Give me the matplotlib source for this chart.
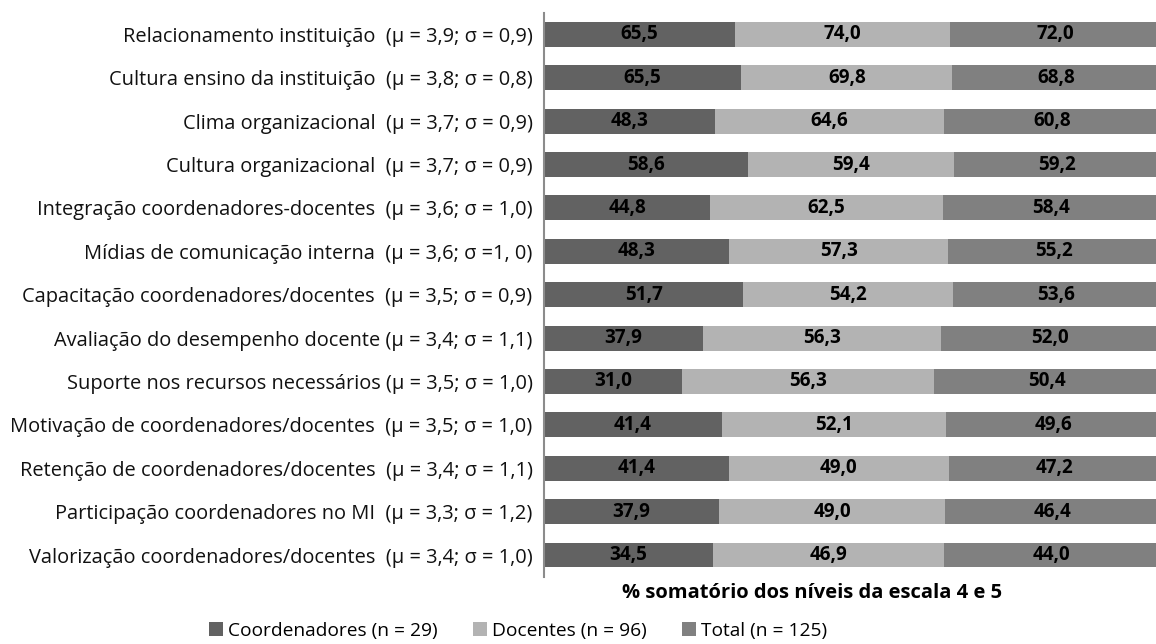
import matplotlib
matplotlib.use("Agg")
import matplotlib.pyplot as plt
from matplotlib.patches import Patch
import numpy as np

FONT = ['Open Sans', 'DejaVu Sans']
plt.rcParams['font.family'] = FONT

categories = [
    "Relacionamento instituição  (μ = 3,9; σ = 0,9)",
    "Cultura ensino da instituição  (μ = 3,8; σ = 0,8)",
    "Clima organizacional  (μ = 3,7; σ = 0,9)",
    "Cultura organizacional  (μ = 3,7; σ = 0,9)",
    "Integração coordenadores-docentes  (μ = 3,6; σ = 1,0)",
    "Mídias de comunicação interna  (μ = 3,6; σ =1, 0)",
    "Capacitação coordenadores/docentes  (μ = 3,5; σ = 0,9)",
    "Avaliação do desempenho docente (μ = 3,4; σ = 1,1)",
    "Suporte nos recursos necessários (μ = 3,5; σ = 1,0)",
    "Motivação de coordenadores/docentes  (μ = 3,5; σ = 1,0)",
    "Retenção de coordenadores/docentes  (μ = 3,4; σ = 1,1)",
    "Participação coordenadores no MI  (μ = 3,3; σ = 1,2)",
    "Valorização coordenadores/docentes  (μ = 3,4; σ = 1,0)",
]
coordenadores = [65.5, 65.5, 48.3, 58.6, 44.8, 48.3, 51.7, 37.9, 31.0, 41.4, 41.4, 37.9, 34.5]
docentes = [74.0, 69.8, 64.6, 59.4, 62.5, 57.3, 54.2, 56.3, 56.3, 52.1, 49.0, 49.0, 46.9]
total = [72.0, 68.8, 60.8, 59.2, 58.4, 55.2, 53.6, 52.0, 50.4, 49.6, 47.2, 46.4, 44.0]
series_names = ["Coordenadores (n = 29)", "Docentes (n = 96)", "Total (n = 125)"]
colors = ["#626262", "#b3b3b3", "#808080"]
xlabel = "% somatório dos níveis da escala 4 e 5"

W, H = 1156, 644
fig = plt.figure(figsize=(W / 100, H / 100), dpi=100)
renderer = fig.canvas.get_renderer()


def fit_size(s, target_px, **kw):
    t = fig.text(0, 0, s, fontsize=10, **kw)
    w = t.get_window_extent(renderer).width
    t.remove()
    return 10 * target_px / w


fs_lab = fit_size(categories[0], 411)
fs_val = fit_size("72,0", 38, fontweight='bold')
fs_title = fit_size(xlabel, 380, fontweight='bold')
fs_leg = fit_size(series_names[0], 209)

left, right = 543.7, 1160.0
top, bottom = 12.7, 576.7
ax = fig.add_axes([left / W, 1 - bottom / H, (right - left) / W, (bottom - top) / H])

data = np.array([coordenadores, docentes, total])
sums = data.sum(axis=0)
shares = data / sums
y = np.arange(len(categories))
start = np.zeros(len(categories))
for i in range(3):
    ax.barh(y, shares[i], left=start, height=0.575, color=colors[i], linewidth=0)
    for j in range(len(categories)):
        ax.text(start[j] + shares[i][j] / 2, y[j], f"{data[i][j]:.1f}".replace('.', ','),
                ha='center', va='center', fontsize=fs_val, fontweight='bold', color='black')
    start = start + shares[i]

ax.set_xlim(0, 1)
ax.set_ylim(len(categories) - 0.5, -0.5)
ax.set_yticks(y)
ax.set_yticklabels(categories, fontsize=fs_lab, color='#111111')
ax.tick_params(axis='y', length=0, pad=8)
ax.set_xticks([])
for s in ['top', 'right', 'bottom']:
    ax.spines[s].set_visible(False)
ax.spines['left'].set_color('#8c8c8c')
ax.spines['left'].set_linewidth(1.5)

fig.text(812 / W, 1 - 593 / H, xlabel, ha='center', va='center',
         fontsize=fs_title, fontweight='bold', color='black')

fs_leg_px = fs_leg * 100 / 72
handles = [Patch(facecolor=c, edgecolor='none') for c in colors]
fig.legend(handles, series_names, loc='center left', bbox_to_anchor=(209 / W, 1 - 631 / H),
           ncol=3, frameon=False, fontsize=fs_leg, handlelength=14 / fs_leg_px,
           handleheight=14 / fs_leg_px, handletextpad=4.5 / fs_leg_px,
           columnspacing=36 / fs_leg_px, borderpad=0, borderaxespad=0)

fig.savefig("out.png", dpi=100)
